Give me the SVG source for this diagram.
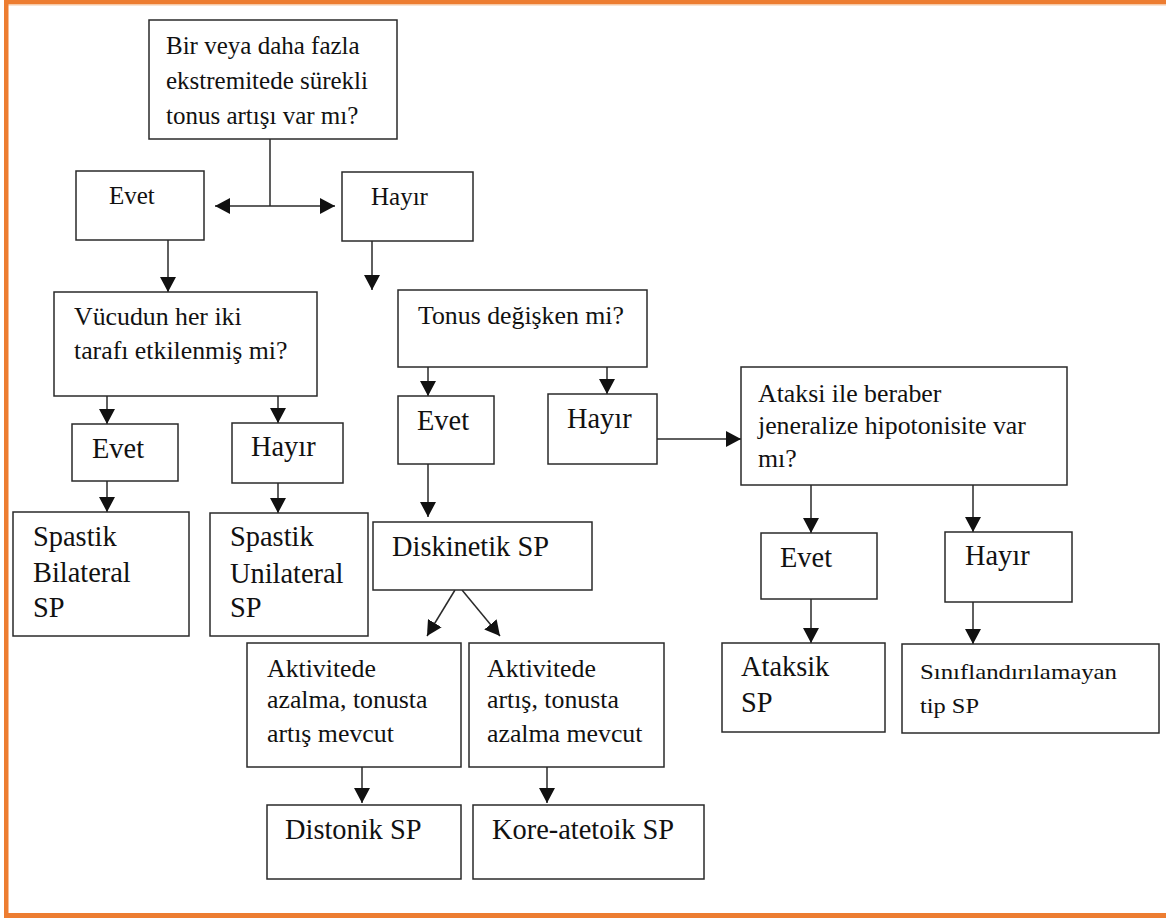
<svg xmlns="http://www.w3.org/2000/svg" width="1166" height="918" viewBox="0 0 1166 918">
<defs>
<style>
.box{fill:#fff;stroke:#2a2a2a;stroke-width:1.5}
.t{font-family:"Liberation Serif","Times New Roman",serif;fill:#111}
.q{font-size:25.8px}
.a{font-size:28.4px}
.c{stroke:#2a2a2a;stroke-width:1.5;fill:none}
</style>
<marker id="ah" viewBox="0 0 15 16" refX="15" refY="8" markerWidth="15" markerHeight="16" markerUnits="userSpaceOnUse" orient="auto">
<path d="M0,0 L15,8 L0,16 z" fill="#111"/>
</marker>
</defs>
<rect x="0" y="0" width="1166" height="918" fill="#fff"/>
<g id="frame">
<rect x="4" y="0" width="1162" height="4" fill="#ED7D31"/>
<rect x="4" y="4" width="1162" height="1.5" fill="#F6C9A6"/>
<rect x="4" y="0" width="4.5" height="918" fill="#ED7D31"/>
<rect x="4" y="913" width="1162" height="5" fill="#ED7D31"/>
</g>
<g id="connectors">
<line class="c" x1="270" y1="139" x2="270" y2="206"/>
<line class="c" x1="270" y1="206" x2="215" y2="206" marker-end="url(#ah)"/>
<line class="c" x1="270" y1="206" x2="335" y2="206" marker-end="url(#ah)"/>
<line class="c" x1="168" y1="240" x2="168" y2="292" marker-end="url(#ah)"/>
<line class="c" x1="372" y1="241" x2="372" y2="290" marker-end="url(#ah)"/>
<line class="c" x1="107" y1="396" x2="107" y2="424" marker-end="url(#ah)"/>
<line class="c" x1="278" y1="396" x2="278" y2="423" marker-end="url(#ah)"/>
<line class="c" x1="107" y1="481" x2="107" y2="512" marker-end="url(#ah)"/>
<line class="c" x1="278" y1="483" x2="278" y2="513" marker-end="url(#ah)"/>
<line class="c" x1="428" y1="367" x2="428" y2="396" marker-end="url(#ah)"/>
<line class="c" x1="607" y1="367" x2="607" y2="394" marker-end="url(#ah)"/>
<line class="c" x1="657" y1="439" x2="741" y2="439" marker-end="url(#ah)"/>
<line class="c" x1="428" y1="464" x2="428" y2="517" marker-end="url(#ah)"/>
<line class="c" x1="455" y1="590" x2="427" y2="636" marker-end="url(#ah)"/>
<line class="c" x1="462" y1="590" x2="500" y2="636" marker-end="url(#ah)"/>
<line class="c" x1="362" y1="767" x2="362" y2="803" marker-end="url(#ah)"/>
<line class="c" x1="547" y1="767" x2="547" y2="803" marker-end="url(#ah)"/>
<line class="c" x1="811" y1="485" x2="811" y2="533" marker-end="url(#ah)"/>
<line class="c" x1="973" y1="485" x2="973" y2="532" marker-end="url(#ah)"/>
<line class="c" x1="811" y1="599" x2="811" y2="643" marker-end="url(#ah)"/>
<line class="c" x1="973" y1="602" x2="973" y2="644" marker-end="url(#ah)"/>
</g>
<g id="n-top">
<rect class="box" x="149" y="20" width="248" height="119"/>
<text class="t" font-size="25" x="166" y="54">Bir veya daha fazla</text>
<text class="t" font-size="25" x="166" y="89">ekstremitede sürekli</text>
<text class="t" font-size="25" x="166" y="124">tonus artışı var mı?</text>
</g>
<g id="n-evet1">
<rect class="box" x="76" y="171" width="128" height="69"/>
<text class="t" font-size="25" x="109" y="204">Evet</text>
</g>
<g id="n-hayir1">
<rect class="box" x="342" y="172" width="131" height="69"/>
<text class="t" font-size="25" x="371" y="205">Hayır</text>
</g>
<g id="n-vucut">
<rect class="box" x="54" y="292" width="263" height="104"/>
<text class="t q" x="74" y="325">Vücudun her iki</text>
<text class="t q" x="74" y="359">tarafı etkilenmiş mi?</text>
</g>
<g id="n-evet2">
<rect class="box" x="72" y="424" width="106" height="57"/>
<text class="t a" x="92" y="458">Evet</text>
</g>
<g id="n-hayir2">
<rect class="box" x="232" y="423" width="111" height="60"/>
<text class="t a" x="251" y="456">Hayır</text>
</g>
<g id="n-bilateral">
<rect class="box" x="13" y="512" width="176" height="124"/>
<text class="t a" x="33" y="546">Spastik</text>
<text class="t a" x="33" y="582">Bilateral</text>
<text class="t a" x="33" y="617">SP</text>
</g>
<g id="n-unilateral">
<rect class="box" x="210" y="513" width="158" height="123"/>
<text class="t a" x="230" y="546">Spastik</text>
<text class="t a" x="230" y="583">Unilateral</text>
<text class="t a" x="230" y="617">SP</text>
</g>
<g id="n-tonus">
<rect class="box" x="398" y="290" width="249" height="77"/>
<text class="t q" x="418" y="324">Tonus değişken mi?</text>
</g>
<g id="n-evet3">
<rect class="box" x="398" y="396" width="96" height="68"/>
<text class="t a" x="417" y="430">Evet</text>
</g>
<g id="n-hayir3">
<rect class="box" x="548" y="394" width="109" height="70"/>
<text class="t a" x="567" y="428">Hayır</text>
</g>
<g id="n-diskinetik">
<rect class="box" x="373" y="522" width="219" height="68"/>
<text class="t a" x="392" y="556">Diskinetik SP</text>
</g>
<g id="n-akt1">
<rect class="box" x="247" y="643" width="214" height="124"/>
<text class="t q" x="267" y="677">Aktivitede</text>
<text class="t q" x="267" y="708">azalma, tonusta</text>
<text class="t q" x="267" y="742">artış mevcut</text>
</g>
<g id="n-akt2">
<rect class="box" x="469" y="643" width="195" height="124"/>
<text class="t q" x="487" y="677">Aktivitede</text>
<text class="t q" x="487" y="708">artış, tonusta</text>
<text class="t q" x="487" y="742">azalma mevcut</text>
</g>
<g id="n-distonik">
<rect class="box" x="267" y="805" width="194" height="74"/>
<text class="t a" x="285" y="839">Distonik SP</text>
</g>
<g id="n-kore">
<rect class="box" x="473" y="805" width="231" height="74"/>
<text class="t a" x="492" y="839">Kore-atetoik SP</text>
</g>
<g id="n-ataksi">
<rect class="box" x="741" y="367" width="326" height="118"/>
<text class="t q" x="758" y="402">Ataksi ile beraber</text>
<text class="t q" x="758" y="434">jeneralize hipotonisite var</text>
<text class="t q" x="758" y="467">mı?</text>
</g>
<g id="n-evet4">
<rect class="box" x="761" y="533" width="116" height="66"/>
<text class="t a" x="780" y="567">Evet</text>
</g>
<g id="n-hayir4">
<rect class="box" x="945" y="532" width="127" height="70"/>
<text class="t a" x="965" y="565">Hayır</text>
</g>
<g id="n-ataksik">
<rect class="box" x="722" y="643" width="163" height="89"/>
<text class="t a" x="741" y="676">Ataksik</text>
<text class="t a" x="741" y="712">SP</text>
</g>
<g id="n-sinif">
<rect class="box" x="902" y="644" width="257" height="89"/>
<text class="t" font-size="21.5" x="920" y="679" textLength="197" lengthAdjust="spacingAndGlyphs">Sınıflandırılamayan</text>
<text class="t" font-size="21.5" x="920" y="713" textLength="59" lengthAdjust="spacingAndGlyphs">tip SP</text>
</g>
</svg>
